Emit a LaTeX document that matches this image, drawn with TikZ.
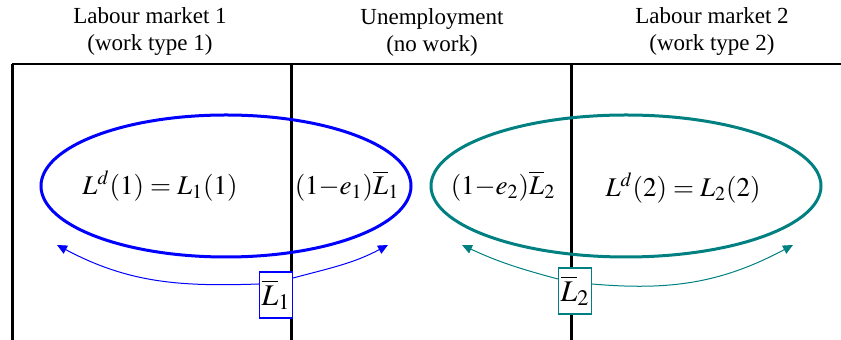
\documentclass[tikz,border=0pt]{standalone}
\usepackage{mathptmx}
\usepackage{fontspec}
\setmainfont{Liberation Serif}
\usepackage{xcolor}
\usetikzlibrary{arrows.meta, positioning, shapes.geometric, calc}
\definecolor{pureblue}{RGB}{0,0,255}
\definecolor{darkteal}{RGB}{0,128,128}

\begin{document}
\begin{tikzpicture}[
  x=0.5pt, y=-0.5pt,
  header/.style={align=center, font=\fontsize{11.5}{13.5}\selectfont},
  divider/.style={line width=1.5pt, black},
  market/.style={ellipse, line width=1.5pt, inner sep=0pt, minimum height=71pt},
  eqn/.style={font=\fontsize{13.5}{16}\selectfont},
  supply/.style={rectangle, draw, fill=white, line width=0.6pt, inner sep=1pt,
              minimum width=16.5pt, minimum height=23pt, font=\fontsize{15}{17}\selectfont},
  link/.style={-{Triangle[length=5pt, width=4.5pt]}, line width=0.5pt}
]
\useasboundingbox (0,0) rectangle (841,340);

% headings
\node[header] (head1) at (150,32) {Labour market 1\\(work type 1)};
\node[header] (head0) at (432,32) {Unemployment\\(no work)};
\node[header] (head2) at (712,32) {Labour market 2\\(work type 2)};

% table lines
\coordinate (topL) at (12,64);
\coordinate (topR) at (841,64);
\draw[line width=1pt] (topL) -- (topR);
\draw[divider] (12,64) -- (12,340);
\draw[divider] (291,64) -- (291,340);
\draw[divider] (571,64) -- (571,340);

% the two labour pools
\node[market, draw=pureblue, minimum width=185pt] (pool1) at (226,186) {};
\node[market, draw=darkteal, minimum width=195pt] (pool2) at (626,186) {};

\node[eqn] (dem1) at (160,186) {$L^{d}(1) = L_{1}(1)$};
\node[eqn] (idle1) at (347,186) {$(1{-}e_{1})\overline{L}_{1}$};
\node[eqn] (idle2) at (503,186) {$(1{-}e_{2})\overline{L}_{2}$};
\node[eqn] (dem2) at (683,188) {$L^{d}(2) = L_{2}(2)$};

% total supply boxes
\node[supply, draw=pureblue] (lbar1) at (276,295) {$\overline{L}_{1}$};
\node[supply, draw=darkteal] (lbar2) at (575,291) {$\overline{L}_{2}$};

\coordinate (tip1l) at (57,245);
\coordinate (tip1r) at (388,245);
\coordinate (tip2l) at (462,245);
\coordinate (tip2r) at (793,245);

\draw[link, pureblue] ([yshift=5.5pt]lbar1.west) to[out=182, in=-28] (tip1l);
\draw[link, pureblue] ([yshift=8.5pt]lbar1.east) to[out=15, in=-152] (tip1r);
\draw[link, darkteal] ([yshift=6pt]lbar2.west) to[out=165, in=-25] (tip2l);
\draw[link, darkteal] ([yshift=3.5pt]lbar2.east) to[out=-5, in=-152] (tip2r);
\end{tikzpicture}
\end{document}
